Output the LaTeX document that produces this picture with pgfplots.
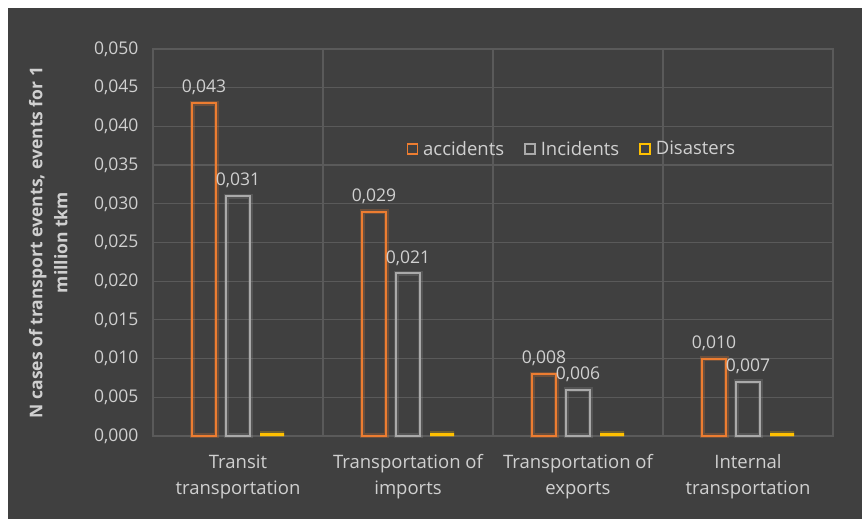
\documentclass[border=0pt]{standalone}
\usepackage{fontspec}
\setmainfont{Open Sans}
\usepackage{pgfplots}
\pgfplotsset{compat=1.18}

\definecolor{bg}{RGB}{64,64,64}
\definecolor{gridc}{RGB}{90,90,90}
\definecolor{txt}{RGB}{208,208,208}
\definecolor{acc}{RGB}{237,125,49}
\definecolor{inc}{RGB}{170,170,170}
\definecolor{dis}{RGB}{255,192,0}

\begin{document}
\begin{tikzpicture}[x=1pt,y=1pt]
% page and chart background
\fill[white] (0,0) rectangle (862,519);
\fill[bg] (8,0) rectangle (862,511);
\begin{axis}[
  at={(153pt,83pt)}, anchor=south west,
  scale only axis, width=680pt, height=387pt,
  xmin=-0.5, xmax=3.5, ymin=0, ymax=0.05,
  clip=false,
  ybar, bar width=24pt,
  xtick={0,1,2,3},
  xticklabels={{Transit\\transportation},{Transportation of\\imports},{Transportation of\\exports},{Internal\\transportation}},
  minor xtick={0.5,1.5,2.5},
  xminorgrids=true,
  ytick={0,0.005,0.01,0.015,0.02,0.025,0.03,0.035,0.04,0.045,0.05},
  ymajorgrids=true,
  grid style={gridc, line width=1.2pt},
  minor grid style={gridc, line width=1.2pt},
  axis line style={gridc, line width=1.2pt},
  major tick length=0pt, minor tick length=0pt,
  scaled y ticks=false,
  /pgf/number format/.cd, fixed, fixed zerofill, precision=3, use comma, assume math mode=true,
  /pgfplots/.cd,
  yticklabel style={text=txt, font=\fontsize{17.5}{17.5}\selectfont, xshift=-11pt},
  xticklabel style={text=txt, font=\fontsize{18.5}{26}\selectfont, align=center, yshift=-15pt},
  ylabel={N cases of transport events, events for 1\\million tkm},
  every axis y label/.style={at={(axis description cs:-0.154,0.5)}, anchor=center, rotate=90,
    align=center, text=txt, font=\fontsize{17.5}{25}\selectfont\bfseries},
  legend style={at={(rel axis cs:0.616,0.742)}, anchor=center, draw=none, fill=none,
    text=txt, font=\fontsize{18.5}{18.5}\selectfont, legend columns=3,
    /tikz/every even column/.append style={column sep=18pt}},
  legend image code/.code={\draw[#1] (0pt,-5pt) rectangle (10pt,5pt); \path (13pt,0pt);},
  nodes near coords style={text=txt, font=\fontsize{17.5}{17.5}\selectfont, inner sep=3pt, yshift=4pt},
]
\addlegendimage{draw=acc, fill=none, line width=1.6pt}
\addlegendentry{accidents}
\addlegendimage{draw=inc, fill=none, line width=1.6pt}
\addlegendentry{Incidents}
\addlegendimage{draw=dis, fill=none, line width=1.6pt}
\addlegendentry{Disasters}
\addplot[draw=acc, fill=none, line width=2pt, bar shift=-34pt,
  preaction={draw=acc, line width=5pt, opacity=0.25},
  nodes near coords, forget plot]
  coordinates {(0,0.043) (1,0.029) (2,0.008) (3,0.010)};
\addplot[draw=inc, fill=none, line width=2pt, bar shift=0pt,
  preaction={draw=inc, line width=5pt, opacity=0.2},
  nodes near coords, forget plot]
  coordinates {(0,0.031) (1,0.021) (2,0.006) (3,0.007)};
\addplot[draw=dis, fill=none, line width=2.5pt, bar shift=34pt, yshift=1.5pt,
  preaction={draw=dis, line width=6pt, opacity=0.25}, forget plot]
  coordinates {(0,0) (1,0) (2,0) (3,0)};
\end{axis}
\end{tikzpicture}
\end{document}
